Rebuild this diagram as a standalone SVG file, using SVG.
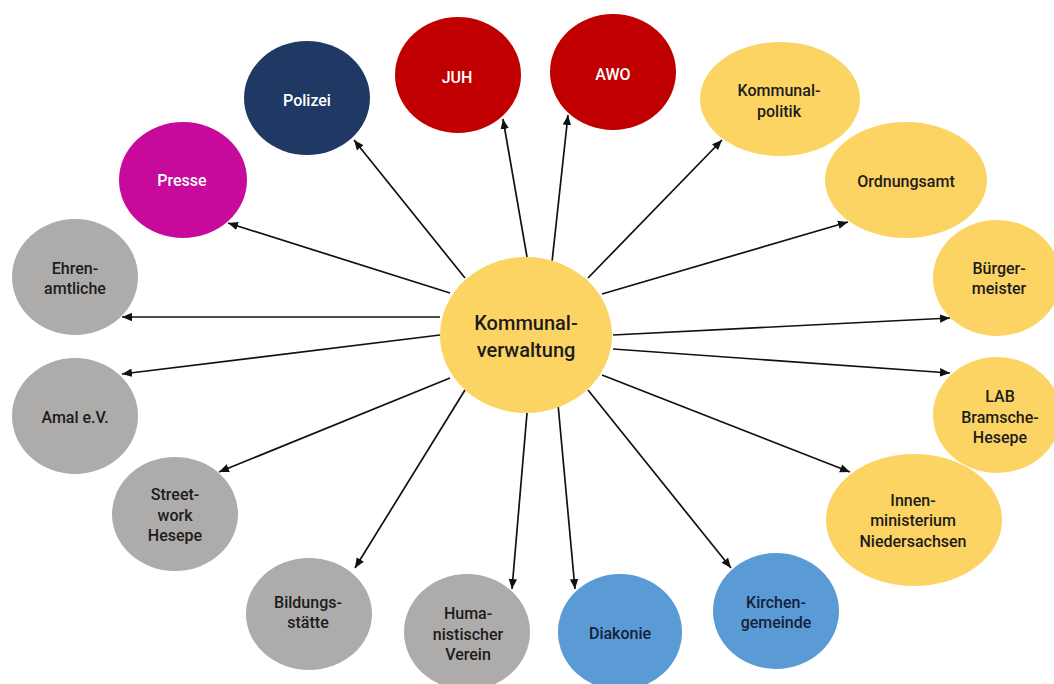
<svg xmlns="http://www.w3.org/2000/svg" width="1054" height="684" viewBox="0 0 1054 684">
<style>
.t{font-family:Roboto,"Liberation Sans",sans-serif;font-size:16px;font-weight:500;text-anchor:middle;fill:#1c1c1c}
.w{fill:#ffffff}
.nb{fill:#14213d}
.yel{fill:#FCD464}
.gry{fill:#AEABAB}
.blu{fill:#5B9BD5}
.red{fill:#C00000}
.nav{fill:#203864}
.mag{fill:#C70A9C}
.c{stroke:#111;stroke-width:1.7;fill:none;marker-end:url(#ah)}
</style>
<defs>
<marker id="ah" markerUnits="userSpaceOnUse" markerWidth="12" markerHeight="10" refX="10" refY="5" orient="auto">
<path d="M0,0.8 L10,5 L0,9.2 Z" fill="#111"/>
</marker>
</defs>
<rect width="1054" height="684" fill="#ffffff"/>
<g id="connectors">
<line class="c" x1="440" y1="317" x2="122" y2="317"/>
<line class="c" x1="440" y1="335" x2="122" y2="374"/>
<line class="c" x1="450" y1="293" x2="228" y2="223"/>
<line class="c" x1="465" y1="278" x2="354" y2="140"/>
<line class="c" x1="527" y1="257" x2="503" y2="119"/>
<line class="c" x1="552" y1="262" x2="568" y2="115"/>
<line class="c" x1="588" y1="278" x2="722" y2="140"/>
<line class="c" x1="602" y1="294" x2="848" y2="222"/>
<line class="c" x1="613" y1="335" x2="950" y2="318"/>
<line class="c" x1="613" y1="349" x2="950" y2="373"/>
<line class="c" x1="602" y1="375" x2="850" y2="472"/>
<line class="c" x1="588" y1="390" x2="731" y2="568"/>
<line class="c" x1="558" y1="404" x2="575" y2="589"/>
<line class="c" x1="527" y1="413" x2="512" y2="589"/>
<line class="c" x1="465" y1="390" x2="355" y2="568"/>
<line class="c" x1="450" y1="378" x2="219" y2="472"/>
</g>
<g id="center">
<ellipse class="yel" cx="526" cy="335" rx="86" ry="78"/>
<text class="t" style="font-size:20px" x="526" y="330">Kommunal-</text>
<text class="t" style="font-size:20px" x="526" y="357">verwaltung</text>
</g>
<g id="polizei">
<ellipse class="nav" cx="307" cy="98" rx="63" ry="57"/>
<text class="t w" x="307" y="106">Polizei</text>
</g>
<g id="juh">
<ellipse class="red" cx="458" cy="75" rx="63" ry="58"/>
<text class="t w" x="457" y="83">JUH</text>
</g>
<g id="awo">
<ellipse class="red" cx="613" cy="72" rx="63" ry="58"/>
<text class="t w" x="613" y="80">AWO</text>
</g>
<g id="kommunalpolitik">
<ellipse class="yel" cx="780" cy="99" rx="80" ry="57"/>
<text class="t" x="779" y="96">Kommunal-</text>
<text class="t" x="779" y="117">politik</text>
</g>
<g id="ordnungsamt">
<ellipse class="yel" cx="906" cy="180" rx="81" ry="58"/>
<text class="t" x="906" y="187">Ordnungsamt</text>
</g>
<g id="buergermeister">
<ellipse class="yel" cx="997" cy="278" rx="64" ry="58"/>
<text class="t" x="999" y="274">Bürger-</text>
<text class="t" x="999" y="294">meister</text>
</g>
<g id="lab">
<ellipse class="yel" cx="997" cy="415" rx="64" ry="58"/>
<text class="t" x="1000" y="402">LAB</text>
<text class="t" x="1000" y="423">Bramsche-</text>
<text class="t" x="1000" y="443">Hesepe</text>
</g>
<g id="innenministerium">
<ellipse class="yel" cx="914" cy="520" rx="88" ry="66"/>
<text class="t" x="913" y="506">Innen-</text>
<text class="t" x="913" y="526">ministerium</text>
<text class="t" x="913" y="547">Niedersachsen</text>
</g>
<g id="kirchengemeinde">
<ellipse class="blu" cx="776" cy="611" rx="63" ry="58"/>
<text class="t nb" x="776" y="608">Kirchen-</text>
<text class="t nb" x="776" y="628">gemeinde</text>
</g>
<g id="diakonie">
<ellipse class="blu" cx="620" cy="632" rx="62" ry="58"/>
<text class="t nb" x="620" y="639">Diakonie</text>
</g>
<g id="humanistischer-verein">
<ellipse class="gry" cx="467" cy="632" rx="63" ry="58"/>
<text class="t" x="468" y="619">Huma-</text>
<text class="t" x="468" y="640">nistischer</text>
<text class="t" x="468" y="660">Verein</text>
</g>
<g id="bildungsstaette">
<ellipse class="gry" cx="309" cy="614" rx="63" ry="56"/>
<text class="t" x="308" y="608">Bildungs-</text>
<text class="t" x="308" y="628">stätte</text>
</g>
<g id="streetwork">
<ellipse class="gry" cx="175" cy="514" rx="63" ry="57"/>
<text class="t" x="175" y="500">Street-</text>
<text class="t" x="175" y="521">work</text>
<text class="t" x="175" y="541">Hesepe</text>
</g>
<g id="amal">
<ellipse class="gry" cx="75" cy="416" rx="63" ry="58"/>
<text class="t" x="75" y="423">Amal e.V.</text>
</g>
<g id="ehrenamtliche">
<ellipse class="gry" cx="75" cy="277" rx="63" ry="58"/>
<text class="t" x="75" y="274">Ehren-</text>
<text class="t" x="75" y="294">amtliche</text>
</g>
<g id="presse">
<ellipse class="mag" cx="183" cy="180" rx="64" ry="58"/>
<text class="t w" x="182" y="186">Presse</text>
</g>
</svg>
